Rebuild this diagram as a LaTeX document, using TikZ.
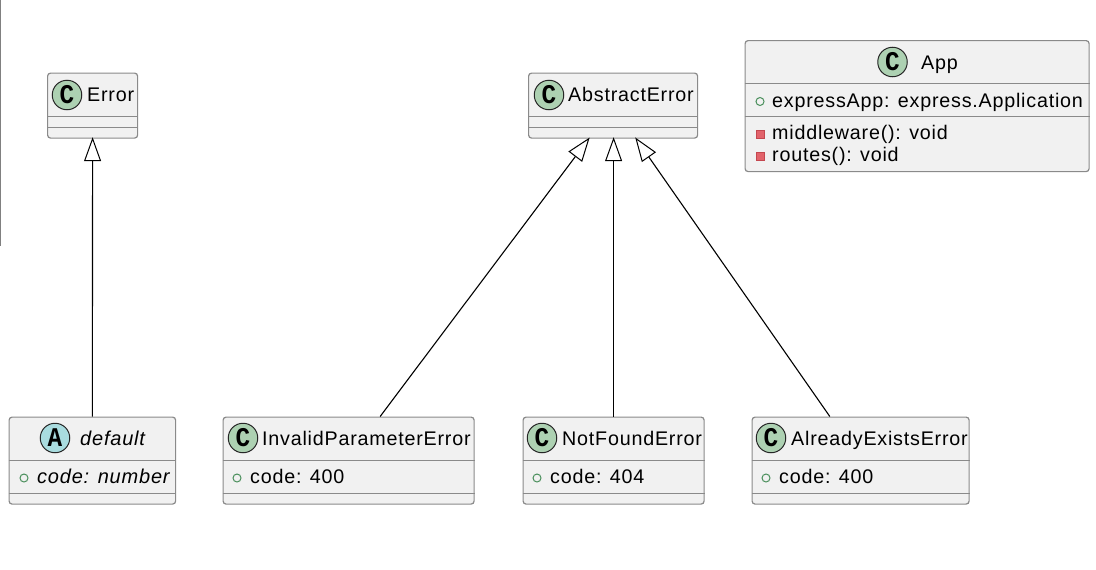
\documentclass[tikz,border=0pt]{standalone}
\usepackage{fontspec}
\setmainfont{Liberation Sans}[LetterSpace=4]
\newfontfamily\glyphfont{Liberation Mono}[FakeStretch=0.9]
\usetikzlibrary{arrows.meta,calc}
\definecolor{boxfill}{HTML}{F1F1F1}
\definecolor{boxline}{HTML}{8A8A8A}
\definecolor{classgreen}{HTML}{ADD1B2}
\definecolor{abstractblue}{HTML}{A9DCDF}
\definecolor{pubgreen}{HTML}{4A8F5C}
\definecolor{privfill}{HTML}{E2636B}
\definecolor{privline}{HTML}{C4474F}
\tikzset{
  x=1pt,y=-1pt,
  umlbox/.style={draw=boxline,fill=boxfill,line width=1.2pt,rounded corners=3pt,inner sep=0pt,anchor=north west},
  sep/.style={draw=boxline,line width=1pt},
  txt/.style={anchor=base west,inner sep=0pt,font=\fontsize{19.7}{23}\selectfont,text=black},
  itxt/.style={txt,font=\fontsize{20}{23}\selectfont\itshape},
  badge/.style={circle,draw=black!85,line width=1pt,minimum size=29.5pt,inner sep=0pt,font=\fontsize{27}{27}\bfseries\glyphfont},
  cbadge/.style={badge,fill=classgreen},
  abadge/.style={badge,fill=abstractblue},
  pub/.style={circle,draw=pubgreen,line width=1pt,minimum size=8pt,inner sep=0pt},
  priv/.style={rectangle,draw=privline,fill=privfill,line width=1pt,minimum size=8pt,inner sep=0pt},
  inherit/.style={draw=black,line width=1.1pt,shorten >=-1.5pt,-{Triangle[open,length=24pt,width=17pt,fill=white,line width=1pt]}},
}
\newcommand{\umlrule}[3]{\draw[sep] (#1.west |- 0,#2) -- (#1.east |- 0,#2); \draw[sep] (#1.west |- 0,#3) -- (#1.east |- 0,#3);}
\begin{document}
\begin{tikzpicture}
\useasboundingbox (0,0) rectangle (1096,570);
\draw[line width=2pt,draw=black!50] (0,0) -- (0,246);

% Error
\node[umlbox,minimum width=90pt,minimum height=65pt] (err) at (47,72.5) {};
\umlrule{err}{116.5}{127.5}
\node[cbadge] (errB) at (67,95) {C};
\node[txt] (errT) at (87,101) {Error};

% AbstractError
\node[umlbox,minimum width=169pt,minimum height=65pt] (abs) at (528,72.5) {};
\umlrule{abs}{116.5}{127.5}
\node[cbadge] (absB) at (549,95) {C};
\node[txt] (absT) at (568,101) {AbstractError};

% App
\node[umlbox,minimum width=344pt,minimum height=131pt] (app) at (744.5,40) {};
\umlrule{app}{83.5}{116.5}
\node[cbadge] (appB) at (892.5,62) {C};
\node[txt] (appT) at (921,69) {App};
\node[pub] (appM1) at (760,101.5) {};
\node[txt] (appF) at (772,107) {expressApp: express.Application};
\node[priv] (appM2) at (760,134) {};
\node[txt] (appG) at (772,139) {middleware(): void};
\node[priv] (appM3) at (760,156) {};
\node[txt] (appH) at (772,161) {routes(): void};

% default
\node[umlbox,minimum width=166.5pt,minimum height=87pt] (def) at (8.5,416.5) {};
\umlrule{def}{460.5}{493.5}
\node[abadge] (defB) at (55,438) {A};
\node[itxt] (defT) at (80,445) {default};
\node[pub] (defM) at (24,478) {};
\node[itxt] (defF) at (37,483) {code: number};

% InvalidParameterError
\node[umlbox,minimum width=251pt,minimum height=87pt] (inv) at (222.5,416.5) {};
\umlrule{inv}{460.5}{493.5}
\node[cbadge] (invB) at (243,438) {C};
\node[txt] (invT) at (262,445) {InvalidParameterError};
\node[pub] (invM) at (237,478) {};
\node[txt] (invF) at (250,483) {code: 400};

% NotFoundError
\node[umlbox,minimum width=181pt,minimum height=87pt] (nf) at (522.5,416.5) {};
\umlrule{nf}{460.5}{493.5}
\node[cbadge] (nfB) at (542,438) {C};
\node[txt] (nfT) at (562,445) {NotFoundError};
\node[pub] (nfM) at (537,478) {};
\node[txt] (nfF) at (550,483) {code: 404};

% AlreadyExistsError
\node[umlbox,minimum width=217pt,minimum height=87pt] (ae) at (751.5,416.5) {};
\umlrule{ae}{460.5}{493.5}
\node[cbadge] (aeB) at (771,438) {C};
\node[txt] (aeT) at (791,445) {AlreadyExistsError};
\node[pub] (aeM) at (766,478) {};
\node[txt] (aeF) at (779,483) {code: 400};

% Inheritance
\draw[inherit] (def.north) -- (err.south);
\draw[inherit] ($(inv.north west)!0.625!(inv.north east)$) -- ($(abs.south west)!0.357!(abs.south east)$);
\draw[inherit] (nf.north) -- (nf.north |- abs.south);
\draw[inherit] ($(ae.north west)!0.359!(ae.north east)$) -- ($(abs.south west)!0.635!(abs.south east)$);
\end{tikzpicture}
\end{document}
